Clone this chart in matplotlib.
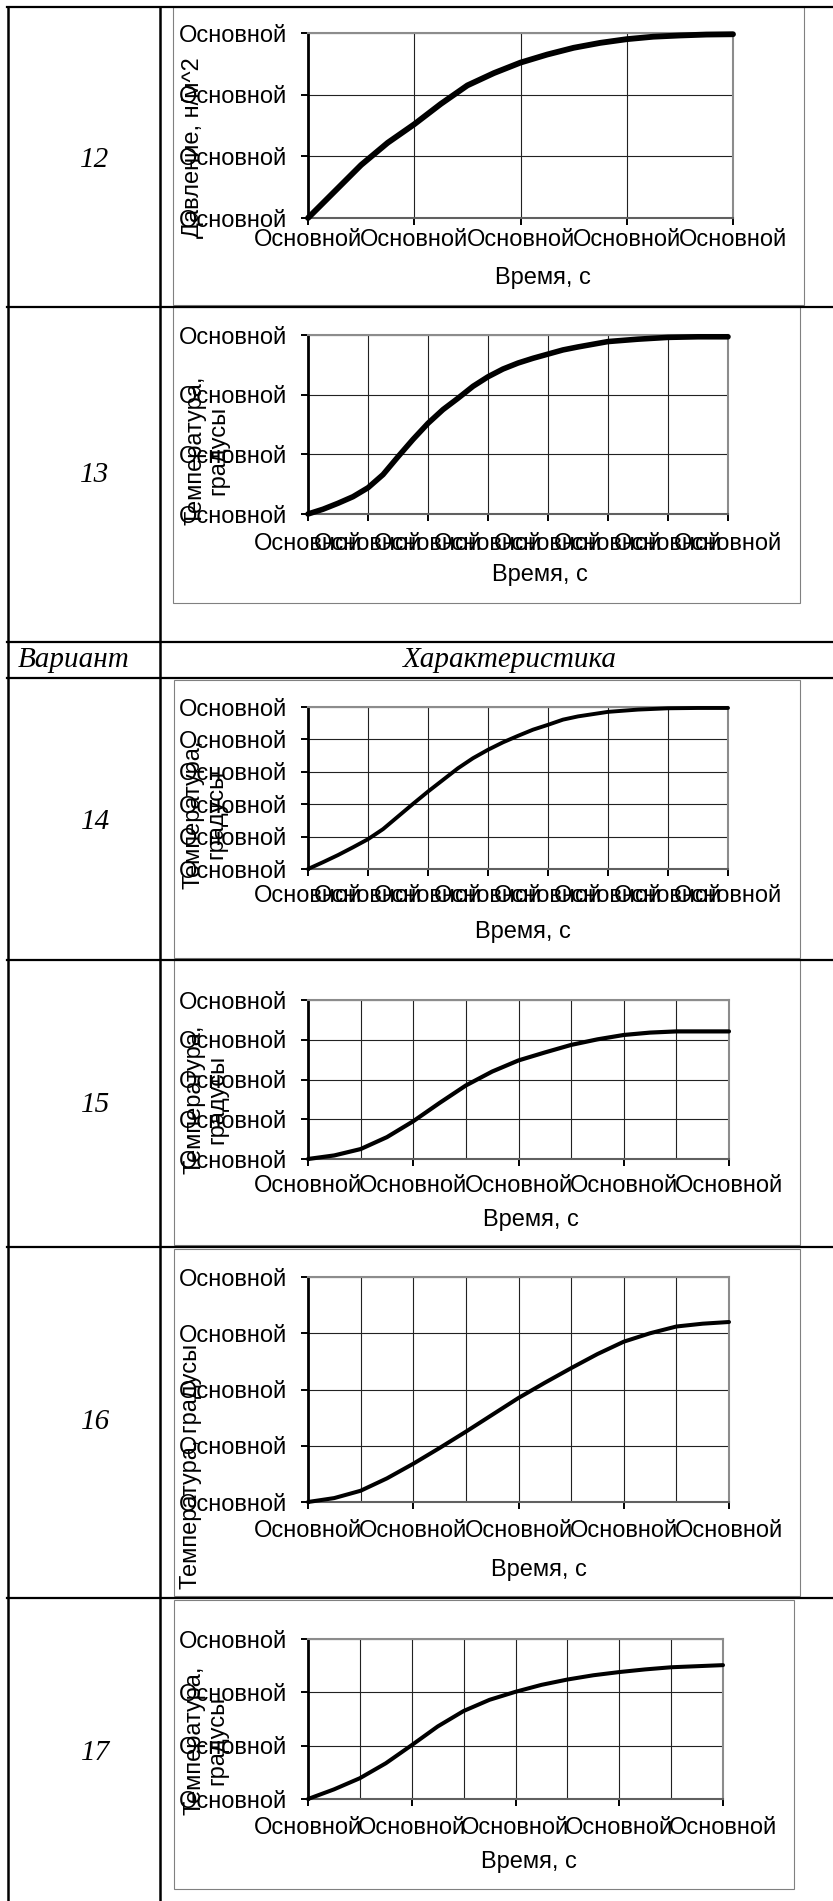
import matplotlib.pyplot as plt
from matplotlib.lines import Line2D
from matplotlib.patches import Rectangle
from matplotlib.ticker import MultipleLocator

plt.rcParams['font.family'] = ['Liberation Sans', 'DejaVu Sans']

# данные кривых (x в делениях категорий, y в делениях оси)
x12 = [0, 0.25, 0.5, 0.75, 1, 1.25, 1.5, 1.75, 2, 2.25, 2.5, 2.75, 3, 3.25, 3.5, 3.75, 4]
y12 = [0, 0.43, 0.86, 1.22, 1.52, 1.85, 2.15, 2.35, 2.52, 2.65, 2.76, 2.84, 2.9, 2.94, 2.96,
       2.975, 2.98]

x13 = [0, 0.25, 0.5, 0.75, 1, 1.25, 1.5, 1.75, 2, 2.25, 2.5, 2.75, 3, 3.25, 3.5, 3.75, 4,
       4.25, 4.5, 5, 5.5, 6, 6.5, 7]
y13 = [0, 0.08, 0.18, 0.29, 0.44, 0.66, 0.96, 1.25, 1.52, 1.75, 1.94, 2.14, 2.30, 2.43, 2.53,
       2.61, 2.68, 2.75, 2.80, 2.89, 2.93, 2.96, 2.97, 2.97]

x14 = [0, 0.25, 0.5, 0.75, 1, 1.25, 1.5, 1.75, 2, 2.25, 2.5, 2.75, 3, 3.25, 3.5, 3.75, 4,
       4.25, 4.5, 5, 5.5, 6, 6.5, 7]
y14 = [0, 0.21, 0.43, 0.67, 0.92, 1.23, 1.62, 2.01, 2.39, 2.75, 3.11, 3.42, 3.68, 3.91, 4.11,
       4.30, 4.45, 4.61, 4.71, 4.85, 4.92, 4.96, 4.97, 4.97]

x15 = [0, 0.25, 0.5, 0.75, 1, 1.25, 1.5, 1.75, 2, 2.25, 2.5, 2.75, 3, 3.25, 3.5, 3.75, 4]
y15 = [0, 0.09, 0.25, 0.55, 0.95, 1.41, 1.85, 2.20, 2.48, 2.68, 2.87, 3.01, 3.12, 3.18, 3.21,
       3.21, 3.21]

x16 = [0, 0.25, 0.5, 0.75, 1, 1.25, 1.5, 1.75, 2, 2.25, 2.5, 2.75, 3, 3.25, 3.5, 3.75, 4]
y16 = [0, 0.07, 0.2, 0.42, 0.68, 0.96, 1.25, 1.55, 1.85, 2.12, 2.38, 2.63, 2.85, 3.0, 3.12,
       3.17, 3.2]

x17 = [0, 0.25, 0.5, 0.75, 1, 1.25, 1.5, 1.75, 2, 2.25, 2.5, 2.75, 3, 3.25, 3.5, 3.75, 4]
y17 = [0, 0.18, 0.39, 0.67, 1.01, 1.36, 1.65, 1.86, 2.01, 2.14, 2.24, 2.32, 2.38, 2.43, 2.47,
       2.49, 2.51]

tick_word = "Основной"
x_label = "Время, с"
variants = ["12", "13", "14", "15", "16", "17"]
y_labels = ["Давление, н/м^2", "Температура,\nградусы", "Температура,\nградусы",
            "Температура,\nградусы", "Температура, градусы", "Температура,\nградусы"]
n_xticks = [5, 8, 8, 5, 5, 5]
n_yticks = [4, 4, 6, 5, 5, 4]
half_grid = [False, False, False, True, True, True]
xs = [x12, x13, x14, x15, x16, x17]
ys = [y12, y13, y14, y15, y16, y17]

# геометрия в пикселях
W, H = 833, 1901


def fx(px):
    return px / W


def fy(py):
    return 1 - py / H


plot_boxes = [(308, 733, 33, 218), (308, 728, 335, 514), (308, 728, 707, 869),
              (308, 729, 1000, 1159), (308, 729, 1277, 1502), (308, 723, 1639, 1799)]
chart_boxes = [(173, 804, 7, 305), (173, 800, 307, 603), (174, 800, 680, 958),
               (174, 800, 960, 1245), (174, 800, 1249, 1596), (174, 794, 1600, 1889)]
num_pos = [(95, 160), (95, 475), (96, 822), (96, 1105), (96, 1422), (96, 1753)]
ylab_pos = [(193, 148), (207, 450), (205, 814), (206, 1099), (191, 1466), (206, 1740)]
xlab_pos = [(543, 278), (540, 575), (523, 932), (531, 1220), (539, 1570), (529, 1862)]
xlab_off = [24, 32, 29, 29, 31, 31]
line_w = [4.2, 4.0, 2.8, 3.0, 2.9, 2.9]

fig = plt.figure(figsize=(W / 100, H / 100), dpi=100)

# линии таблицы
for yy in [7, 307, 642, 678, 960, 1247, 1598]:
    fig.add_artist(Line2D([fx(7), 1], [fy(yy), fy(yy)], color='black', lw=1.6))
for xx in [7.5, 160]:
    fig.add_artist(Line2D([fx(xx), fx(xx)], [fy(7), 0], color='black', lw=1.8))

serif = dict(family='Liberation Serif', style='italic', fontsize=21)
fig.text(fx(74), fy(660), "Вариант", ha='center', va='center', **serif)
fig.text(fx(510), fy(660), "Характеристика", ha='center', va='center', **serif)

for i in range(6):
    l, r, t, b = chart_boxes[i]
    fig.add_artist(Rectangle((fx(l), fy(b)), fx(r) - fx(l), fy(t) - fy(b),
                             transform=fig.transFigure, fill=False, ec='#808080', lw=0.8))
    fig.text(fx(num_pos[i][0]), fy(num_pos[i][1]), variants[i], ha='center', va='center', **serif)

    L, R, T, B = plot_boxes[i]
    ax = fig.add_axes([fx(L), fy(B), fx(R) - fx(L), fy(T) - fy(B)])
    ax.plot(xs[i], ys[i], color='black', lw=line_w[i], solid_capstyle='round',
            solid_joinstyle='round', clip_on=False, zorder=5)
    nx, ny = n_xticks[i], n_yticks[i]
    ax.set_xlim(0, nx - 1)
    ax.set_ylim(0, ny - 1)
    ax.set_xticks(range(nx))
    ax.set_xticklabels([tick_word] * nx)
    ax.set_yticks(range(ny))
    ax.set_yticklabels([tick_word] * ny)
    ax.set_axisbelow(True)
    ax.grid(True, which='major', color='#222222', lw=0.8)
    if half_grid[i]:
        ax.xaxis.set_minor_locator(MultipleLocator(0.5))
        ax.grid(True, which='minor', axis='x', color='#222222', lw=0.8)
        ax.tick_params(axis='x', which='minor', length=0)
    ax.spines['left'].set_color('black')
    ax.spines['left'].set_linewidth(2)
    ax.spines['bottom'].set_color('#606060')
    ax.spines['bottom'].set_linewidth(1.5)
    for s in ['top', 'right']:
        ax.spines[s].set_color('#8c8c8c')
        ax.spines[s].set_linewidth(1.5)
    ax.tick_params(axis='both', which='major', direction='out', length=5, width=1.4,
                   labelsize=17, color='black')
    ax.tick_params(axis='y', pad=10)
    ax.tick_params(axis='x', pad=max(0.5, (xlab_off[i] - 7 - 13.2) * 0.72))

    fig.text(fx(ylab_pos[i][0]), fy(ylab_pos[i][1]), y_labels[i], rotation=90,
             ha='center', va='center', fontsize=17, linespacing=1.1, multialignment='center')
    fig.text(fx(xlab_pos[i][0]), fy(xlab_pos[i][1]), x_label, ha='center', va='center',
             fontsize=17)

plt.savefig("out.png", dpi=100)
